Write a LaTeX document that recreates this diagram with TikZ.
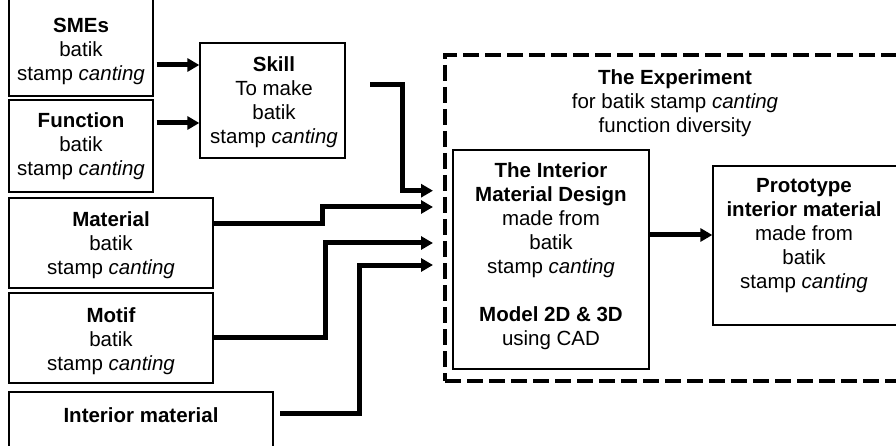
\documentclass[tikz,border=0pt]{standalone}
\usepackage{fontspec}
\setmainfont{Liberation Sans}
\usetikzlibrary{arrows.meta}
\begin{document}
\begin{tikzpicture}[x=1pt,y=-1pt,
  box/.style={draw,line width=1.3pt,rectangle,inner sep=0pt,minimum width=#1},
  txt/.style={align=center,inner sep=0pt,font=\fontsize{20.5}{24}\selectfont},
  conn/.style={line width=5pt,-{Triangle[length=12pt,width=13pt]}},
  exper/.style={draw,line width=4.5pt,dash pattern=on 16pt off 6pt,rectangle,inner sep=0pt}]
\clip (0,0) rectangle (896,446);
\fill[white] (0,0) rectangle (896,446);

% left boxes
\node[box=144pt,minimum height=106pt] (smes) at (81,43) {};
\node[txt] (smesT) at (81,51) {\textbf{SMEs}\\batik\\stamp \textit{canting}};
\node[box=144pt,minimum height=92pt] (func) at (81,146) {};
\node[txt] (funcT) at (81,146) {\textbf{Function}\\batik\\stamp \textit{canting}};
\node[box=204pt,minimum height=90pt] (mat) at (111,243) {};
\node[txt] (matT) at (111,245) {\textbf{Material}\\batik\\stamp \textit{canting}};
\node[box=204pt,minimum height=90pt] (motif) at (111,338) {};
\node[txt] (motifT) at (111,341) {\textbf{Motif}\\batik\\stamp \textit{canting}};
\node[box=264pt,minimum height=68pt] (intm) at (141,426) {};
\node[txt] (intmT) at (141,415) {\textbf{Interior material}};

% skill
\node[box=145pt,minimum height=115pt] (skill) at (272.5,100.5) {};
\node[txt] (skillT) at (274,102) {\textbf{Skill}\\To make\\batik\\stamp \textit{canting}};

% experiment
\node[exper,minimum width=470pt,minimum height=326pt] (exp) at (680,218) {};
\node[txt] (expT) at (675,103) {\textbf{The Experiment}\\for batik stamp \textit{canting}\\function diversity};
\node[box=196pt,minimum height=219pt] (imd) at (551,259.5) {};
\node[txt] (imdT) at (551,256) {\textbf{The Interior}\\\textbf{Material Design}\\made from\\batik\\stamp \textit{canting}\\[24pt]\textbf{Model 2D \& 3D}\\using CAD};
\node[box=186pt,minimum height=159pt] (proto) at (806,245.5) {};
\node[txt] (protoT) at (804,236) {\textbf{Prototype}\\\textbf{interior material}\\made from\\batik\\stamp \textit{canting}};

% connector points
\coordinate (skillout) at (370,85);
\coordinate (intmout) at (280,413);
\coordinate (t1) at (433,190.7);
\coordinate (t2) at (433,207);
\coordinate (t3) at (433,243);
\coordinate (t4) at (433,265);

% connectors
\draw[conn,shorten <=3pt] (smes.east |- 0,65) -- (skill.west |- 0,65);
\draw[conn,shorten <=3pt] (func.east |- 0,123) -- (skill.west |- 0,123);
\draw[conn] (skillout) -- (402,85) -- (402,190.7) -- (t1);
\draw[conn] (mat.east |- 0,224) -- (322,224) -- (322,207) -- (t2);
\draw[conn] (motif.east |- 0,337) -- (325,337) -- (325,243) -- (t3);
\draw[conn] (intmout) -- (359,413) -- (359,265) -- (t4);
\draw[conn] (imd.east |- 0,235) -- (proto.west |- 0,235);
\end{tikzpicture}
\end{document}
